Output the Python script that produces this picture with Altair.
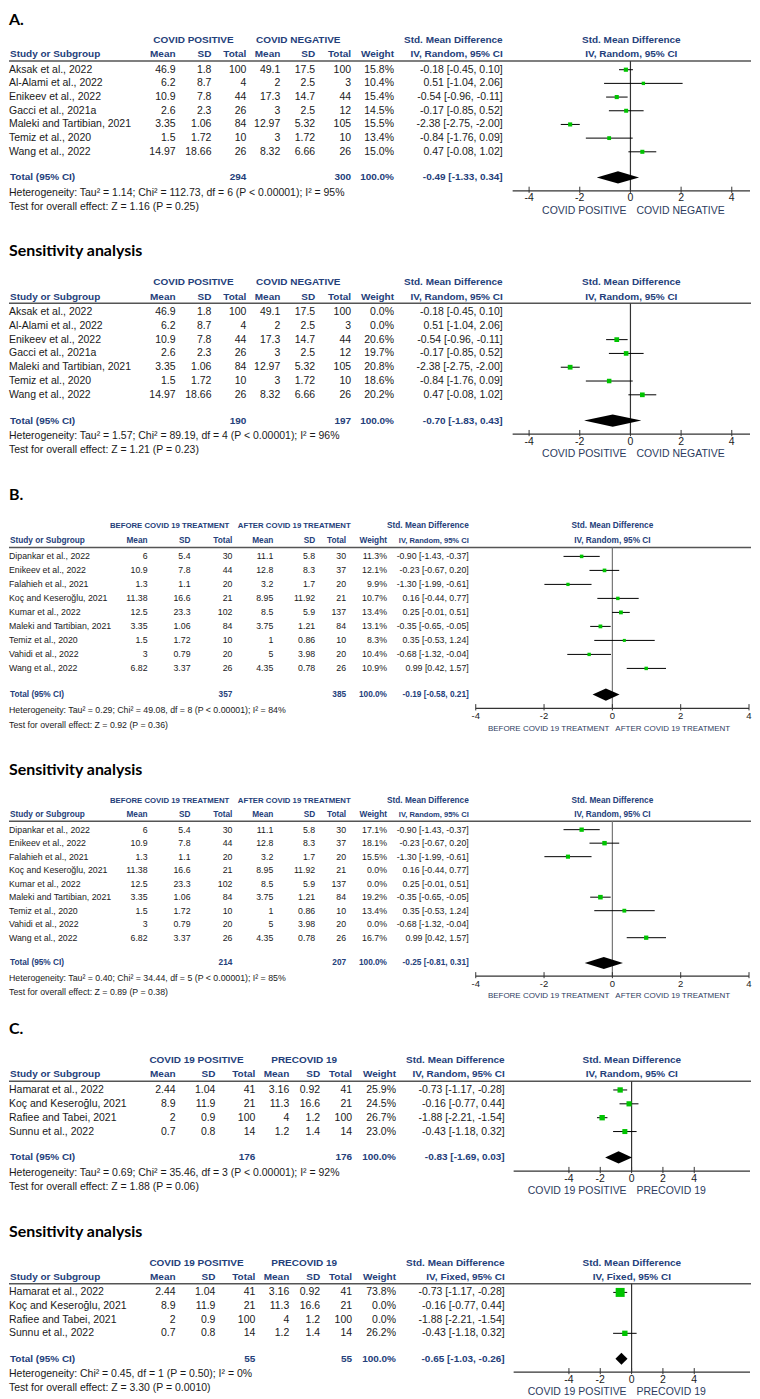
import altair as alt
import pandas as pd

# ---------------- Panel A (and its sensitivity analysis) ----------------
a_names = ["Aksak et al., 2022", "Al-Alami et al., 2022", "Enikeev et al., 2022",
           "Gacci et al., 2021a", "Maleki and Tartibian, 2021", "Temiz et al., 2020",
           "Wang et al., 2022"]
a_pos_mean = [46.9, 6.2, 10.9, 2.6, 3.35, 1.5, 14.97]
a_pos_sd = [1.8, 8.7, 7.8, 2.3, 1.06, 1.72, 18.66]
a_pos_n = [100, 4, 44, 26, 84, 10, 26]
a_neg_mean = [49.1, 2, 17.3, 3, 12.97, 3, 8.32]
a_neg_sd = [17.5, 2.5, 14.7, 2.5, 5.32, 1.72, 6.66]
a_neg_n = [100, 3, 44, 12, 105, 10, 26]
a_smd = [-0.18, 0.51, -0.54, -0.17, -2.38, -0.84, 0.47]
a_lo = [-0.45, -1.04, -0.96, -0.85, -2.75, -1.76, -0.08]
a_hi = [0.10, 2.06, -0.11, 0.52, -2.00, 0.09, 1.02]
a_weight = [15.8, 10.4, 15.4, 14.5, 15.5, 13.4, 15.0]
a_total = [294, 300, -0.49, -1.33, 0.34]
a_het = "Heterogeneity: Tau² = 1.14; Chi² = 112.73, df = 6 (P < 0.00001); I² = 95%"
a_test = "Test for overall effect: Z = 1.16 (P = 0.25)"
as_weight = [0.0, 0.0, 20.6, 19.7, 20.8, 18.6, 20.2]
as_total = [190, 197, -0.70, -1.83, 0.43]
as_het = "Heterogeneity: Tau² = 1.57; Chi² = 89.19, df = 4 (P < 0.00001); I² = 96%"
as_test = "Test for overall effect: Z = 1.21 (P = 0.23)"

# ---------------- Panel B ----------------
b_names = ["Dipankar et al., 2022", "Enikeev et al., 2022", "Falahieh et al., 2021",
           "Koç and Keseroğlu, 2021", "Kumar et al., 2022", "Maleki and Tartibian, 2021",
           "Temiz et al., 2020", "Vahidi et al., 2022", "Wang et al., 2022"]
b_bef_mean = [6, 10.9, 1.3, 11.38, 12.5, 3.35, 1.5, 3, 6.82]
b_bef_sd = [5.4, 7.8, 1.1, 16.6, 23.3, 1.06, 1.72, 0.79, 3.37]
b_bef_n = [30, 44, 20, 21, 102, 84, 10, 20, 26]
b_aft_mean = [11.1, 12.8, 3.2, 8.95, 8.5, 3.75, 1, 5, 4.35]
b_aft_sd = [5.8, 8.3, 1.7, 11.92, 5.9, 1.21, 0.86, 3.98, 0.78]
b_aft_n = [30, 37, 20, 21, 137, 84, 10, 20, 26]
b_smd = [-0.90, -0.23, -1.30, 0.16, 0.25, -0.35, 0.35, -0.68, 0.99]
b_lo = [-1.43, -0.67, -1.99, -0.44, -0.01, -0.65, -0.53, -1.32, 0.42]
b_hi = [-0.37, 0.20, -0.61, 0.77, 0.51, -0.05, 1.24, -0.04, 1.57]
b_weight = [11.3, 12.1, 9.9, 10.7, 13.4, 13.1, 8.3, 10.4, 10.9]
b_total = [357, 385, -0.19, -0.58, 0.21]
b_het = "Heterogeneity: Tau² = 0.29; Chi² = 49.08, df = 8 (P < 0.00001); I² = 84%"
b_test = "Test for overall effect: Z = 0.92 (P = 0.36)"
bs_weight = [17.1, 18.1, 15.5, 0.0, 0.0, 19.2, 13.4, 0.0, 16.7]
bs_total = [214, 207, -0.25, -0.81, 0.31]
bs_het = "Heterogeneity: Tau² = 0.40; Chi² = 34.44, df = 5 (P < 0.00001); I² = 85%"
bs_test = "Test for overall effect: Z = 0.89 (P = 0.38)"

# ---------------- Panel C ----------------
c_names = ["Hamarat et al., 2022", "Koç and Keseroğlu, 2021", "Rafiee and Tabei, 2021",
           "Sunnu et al., 2022"]
c_pos_mean = [2.44, 8.9, 2, 0.7]
c_pos_sd = [1.04, 11.9, 0.9, 0.8]
c_pos_n = [41, 21, 100, 14]
c_pre_mean = [3.16, 11.3, 4, 1.2]
c_pre_sd = [0.92, 16.6, 1.2, 1.4]
c_pre_n = [41, 21, 100, 14]
c_smd = [-0.73, -0.16, -1.88, -0.43]
c_lo = [-1.17, -0.77, -2.21, -1.18]
c_hi = [-0.28, 0.44, -1.54, 0.32]
c_weight = [25.9, 24.5, 26.7, 23.0]
c_total = [176, 176, -0.83, -1.69, 0.03]
c_het = "Heterogeneity: Tau² = 0.69; Chi² = 35.46, df = 3 (P < 0.00001); I² = 92%"
c_test = "Test for overall effect: Z = 1.88 (P = 0.06)"
cs_weight = [73.8, 0.0, 0.0, 26.2]
cs_total = [55, 55, -0.65, -1.03, -0.26]
cs_het = "Heterogeneity: Chi² = 0.45, df = 1 (P = 0.50); I² = 0%"
cs_test = "Test for overall effect: Z = 3.30 (P = 0.0010)"

tick_values = [-4, -2, 0, 2, 4]

# ---------------- styling ----------------
W = 744
ARIAL = "Liberation Sans, Arial, sans-serif"
TITLE_FONT = "Lato, Open Sans, sans-serif"
BLUE = "#24407a"
INK = "#1a1a1a"
AXLAB = "#2c3b5e"
GREEN = "#00c400"

LAY_A = dict(study=0, m1=167, s1=203, n1=238, m2=272, s2=307, n2=343, w=386, smd=495, g1=185, g2=290,
             body=10.5, head=10, mhead=10, group=10, fav=10.5, tick=10.5, dxl=-4, dxr=6, zero="#333333")
LAY_C = dict(study=0, m1=167, s1=207, n1=247, m2=281, s2=312, n2=344, w=388, smd=497, g1=188, g2=296,
             body=10.5, head=10, mhead=10, group=10, fav=10.5, tick=10.5, dxl=-5, dxr=5, zero="#333333")
LAY_B = dict(study=0, m1=139, s1=182, n1=224, m2=265, s2=307, n2=338, w=379, smd=461, g1=161, g2=286,
             body=8.8, head=8.3, mhead=7.6, group=7.8, fav=8, tick=9.5, dxl=-3, dxr=3, zero="#777777")


def g(v):
    return f"{v:g}"


def build_panel(title, grp1, grp2, names, m1, s1, n1, m2, s2, n2, smd, lo, hi, weight,
                total, het, test, method, lay, xdom, xrng, study0, pitch, top, bottom, sq_k):
    n = len(names)
    H = bottom - top
    r_top = (top - study0) / pitch
    r_bot = (bottom - study0) / pitch
    ysc = alt.Scale(domain=[r_top, r_bot], reverse=True, nice=False, zero=False)
    xsc = alt.Scale(domain=xdom, range=xrng, nice=False, zero=False)

    r_title = max(-4.4, r_top + 10 / pitch)
    r_group, r_col, r_line = -2.15, -1.12, -0.63
    r_total = (n - 1) + 1.87
    r_het = r_total + 1.13
    r_test = r_het + 1.02
    r_axis = r_total + 0.98
    r_ticklab = r_axis + 0.55
    r_axlab = r_test + 0.3
    font = ARIAL

    df = pd.DataFrame({
        "name": names,
        "m1": [g(v) for v in m1], "s1": [g(v) for v in s1], "n1": [g(v) for v in n1],
        "m2": [g(v) for v in m2], "s2": [g(v) for v in s2], "n2": [g(v) for v in n2],
        "wt": [f"{v:.1f}%" for v in weight],
        "ci": [f"{e:.2f} [{a:.2f}, {b:.2f}]" for e, a, b in zip(smd, lo, hi)],
        "est": smd, "lo": lo, "hi": hi, "w": weight,
        "row": list(range(n)),
    })

    layers = []

    def ycol():
        return alt.Y("row:Q", scale=ysc, axis=None)

    def ydat(r):
        return alt.YDatum(r, type="quantitative", scale=ysc, axis=None)

    def col_text(field, x, align):
        return alt.Chart(df).mark_text(align=align, baseline="middle", font=font,
                                       fontSize=lay["body"], color=INK).encode(
            x=alt.value(x), y=ycol(), text=f"{field}:N")

    def label(text, x, row, align, size, weight="normal", color=INK, f=None, dx=0, xdatum=False):
        base = alt.Chart(pd.DataFrame({"t": [text]})).mark_text(
            align=align, baseline="middle", font=f or font, fontSize=size,
            fontWeight=weight, color=color, dx=dx)
        xe = (alt.XDatum(0, type="quantitative", scale=xsc, axis=None) if xdatum
              else alt.value(x))
        return base.encode(x=xe, y=ydat(row), text="t:N")

    hs = lay["head"]
    # titles / headers
    layers.append(label(title, 0, r_title, "left", 16, "bold", "#000000", TITLE_FONT))
    layers.append(label(grp1, lay["g1"], r_group, "center", lay["group"], "bold", BLUE))
    layers.append(label(grp2, lay["g2"], r_group, "center", lay["group"], "bold", BLUE))
    layers.append(label("Std. Mean Difference", lay["smd"], r_group, "right", hs, "bold", BLUE))
    pc = (xrng[0] + xrng[1]) / 2
    layers.append(label("Std. Mean Difference", pc, r_group, "center", hs, "bold", BLUE))
    layers.append(label(method, pc, r_col, "center", hs, "bold", BLUE))
    layers.append(label("Study or Subgroup", lay["study"] + 1, r_col, "left", hs, "bold", BLUE))
    for key, txt in [("m1", "Mean"), ("s1", "SD"), ("n1", "Total"), ("m2", "Mean"),
                     ("s2", "SD"), ("n2", "Total"), ("w", "Weight")]:
        layers.append(label(txt, lay[key], r_col, "right", hs, "bold", BLUE))
    layers.append(label(method, lay["smd"], r_col, "right", lay["mhead"], "bold", BLUE))

    one = pd.DataFrame({"t": [0]})
    # header rule
    layers.append(alt.Chart(one).mark_rule(color="#555555", strokeWidth=1.5).encode(
        x=alt.value(0), x2=alt.value(W), y=ydat(r_line)))

    # study rows
    layers.append(col_text("name", lay["study"], "left"))
    for key in ["m1", "s1", "n1", "m2", "s2", "n2"]:
        layers.append(col_text(key, lay[key], "right"))
    layers.append(col_text("wt", lay["w"], "right"))
    layers.append(col_text("ci", lay["smd"], "right"))

    # total row
    tn1, tn2, te, tlo, thi = total
    layers.append(label("Total (95% CI)", lay["study"] + 1, r_total, "left", hs, "bold", BLUE))
    layers.append(label(g(tn1), lay["n1"], r_total, "right", hs, "bold", BLUE))
    layers.append(label(g(tn2), lay["n2"], r_total, "right", hs, "bold", BLUE))
    layers.append(label("100.0%", lay["w"], r_total, "right", hs, "bold", BLUE))
    layers.append(label(f"{te:.2f} [{tlo:.2f}, {thi:.2f}]", lay["smd"], r_total, "right", hs, "bold", BLUE))
    layers.append(label(het, lay["study"], r_het, "left", lay["body"]))
    layers.append(label(test, lay["study"], r_test, "left", lay["body"]))

    # forest plot: zero line
    layers.append(alt.Chart(one).mark_rule(color=lay["zero"], strokeWidth=1.2).encode(
        x=alt.XDatum(0, type="quantitative", scale=xsc, axis=None),
        y=ydat(r_line), y2=alt.Y2Datum(r_axis)))
    # axis line, ticks and tick labels
    layers.append(alt.Chart(one).mark_rule(color="#333333", strokeWidth=1.2).encode(
        x=alt.XDatum(xdom[0], type="quantitative", scale=xsc, axis=None),
        x2=alt.X2Datum(xdom[1]), y=ydat(r_axis)))
    tk = pd.DataFrame({"v": tick_values, "lab": [str(v) for v in tick_values]})
    layers.append(alt.Chart(tk).mark_rule(color="#333333", strokeWidth=1).encode(
        x=alt.X("v:Q", scale=xsc, axis=None), y=ydat(r_axis - 0.3), y2=alt.Y2Datum(r_axis + 0.15)))
    layers.append(alt.Chart(tk).mark_text(baseline="middle", align="center", font=font,
                                          fontSize=lay["tick"], color=INK).encode(
        x=alt.X("v:Q", scale=xsc, axis=None), y=ydat(r_ticklab), text="lab:N"))
    # CI lines
    layers.append(alt.Chart(df).transform_filter("datum.w > 0").mark_rule(
        color="#000000", strokeWidth=1).encode(
        x=alt.X("lo:Q", scale=xsc, axis=None), x2="hi:Q", y=ycol()))
    # squares
    layers.append(alt.Chart(df).transform_filter("datum.w > 0").mark_square(
        filled=True, color=GREEN, opacity=1).encode(
        x=alt.X("est:Q", scale=xsc, axis=None), y=ycol(),
        size=alt.Size("w:Q", scale=alt.Scale(domain=[0, 100], range=[0, sq_k]), legend=None)))
    # pooled diamond
    h = 0.44
    dd = pd.DataFrame({"x": [tlo, te, thi],
                       "y1": [r_total, r_total - h, r_total],
                       "y2": [r_total, r_total + h, r_total]})
    layers.append(alt.Chart(dd).mark_area(color="#000000", opacity=1).encode(
        x=alt.X("x:Q", scale=xsc, axis=None),
        y=alt.Y("y1:Q", scale=ysc, axis=None), y2="y2:Q"))
    # favours labels
    layers.append(label(grp1, 0, r_axlab, "right", lay["fav"], color=AXLAB, dx=lay["dxl"], xdatum=True))
    layers.append(label(grp2, 0, r_axlab, "left", lay["fav"], color=AXLAB, dx=lay["dxr"], xdatum=True))

    return alt.layer(*layers).properties(
        width=W, height=H, view=alt.ViewBackground(stroke="transparent", strokeWidth=0))


panels = [
    build_panel("A.", "COVID POSITIVE", "COVID NEGATIVE", a_names, a_pos_mean, a_pos_sd, a_pos_n,
                a_neg_mean, a_neg_sd, a_neg_n, a_smd, a_lo, a_hi, a_weight, a_total, a_het, a_test,
                "IV, Random, 95% CI", LAY_A, [-4.65, 4.72], [505, 743], 68, 13.72, 8, 230, 110),
    build_panel("Sensitivity analysis", "COVID POSITIVE", "COVID NEGATIVE", a_names, a_pos_mean,
                a_pos_sd, a_pos_n, a_neg_mean, a_neg_sd, a_neg_n, a_smd, a_lo, a_hi, as_weight,
                as_total, as_het, as_test, "IV, Random, 95% CI", LAY_A, [-4.65, 4.72], [505, 743],
                311, 13.83, 230, 474, 110),
    build_panel("B.", "BEFORE COVID 19 TREATMENT", "AFTER COVID 19 TREATMENT", b_names, b_bef_mean,
                b_bef_sd, b_bef_n, b_aft_mean, b_aft_sd, b_aft_n, b_smd, b_lo, b_hi, b_weight,
                b_total, b_het, b_test, "IV, Random, 95% CI", LAY_B, [-4, 4], [468, 742],
                556, 14.04, 474, 748, 85),
    build_panel("Sensitivity analysis", "BEFORE COVID 19 TREATMENT", "AFTER COVID 19 TREATMENT",
                b_names, b_bef_mean, b_bef_sd, b_bef_n, b_aft_mean, b_aft_sd, b_aft_n, b_smd, b_lo,
                b_hi, bs_weight, bs_total, bs_het, bs_test, "IV, Random, 95% CI", LAY_B, [-4, 4],
                [468, 742], 830, 13.54, 748, 1012, 90),
    build_panel("C.", "COVID 19 POSITIVE", "PRECOVID 19", c_names, c_pos_mean, c_pos_sd, c_pos_n,
                c_pre_mean, c_pre_sd, c_pre_n, c_smd, c_lo, c_hi, c_weight, c_total, c_het, c_test,
                "IV, Random, 95% CI", LAY_C, [-7.53, 7.56], [506, 743], 1091, 13.9, 1012, 1212, 115),
    build_panel("Sensitivity analysis", "COVID 19 POSITIVE", "PRECOVID 19", c_names, c_pos_mean,
                c_pos_sd, c_pos_n, c_pre_mean, c_pre_sd, c_pre_n, c_smd, c_lo, c_hi, cs_weight,
                cs_total, cs_het, cs_test, "IV, Fixed, 95% CI", LAY_C, [-7.53, 7.56], [506, 743],
                1294, 13.67, 1212, 1396, 140),
]

chart = alt.vconcat(*panels, spacing=0, bounds="flush",
                    padding={"left": 0, "top": 0, "right": 0, "bottom": 0}).configure_view(
    stroke="transparent", strokeWidth=0).configure(background="white")

chart.save("out.html", embed_options={"renderer": "svg", "actions": False})
